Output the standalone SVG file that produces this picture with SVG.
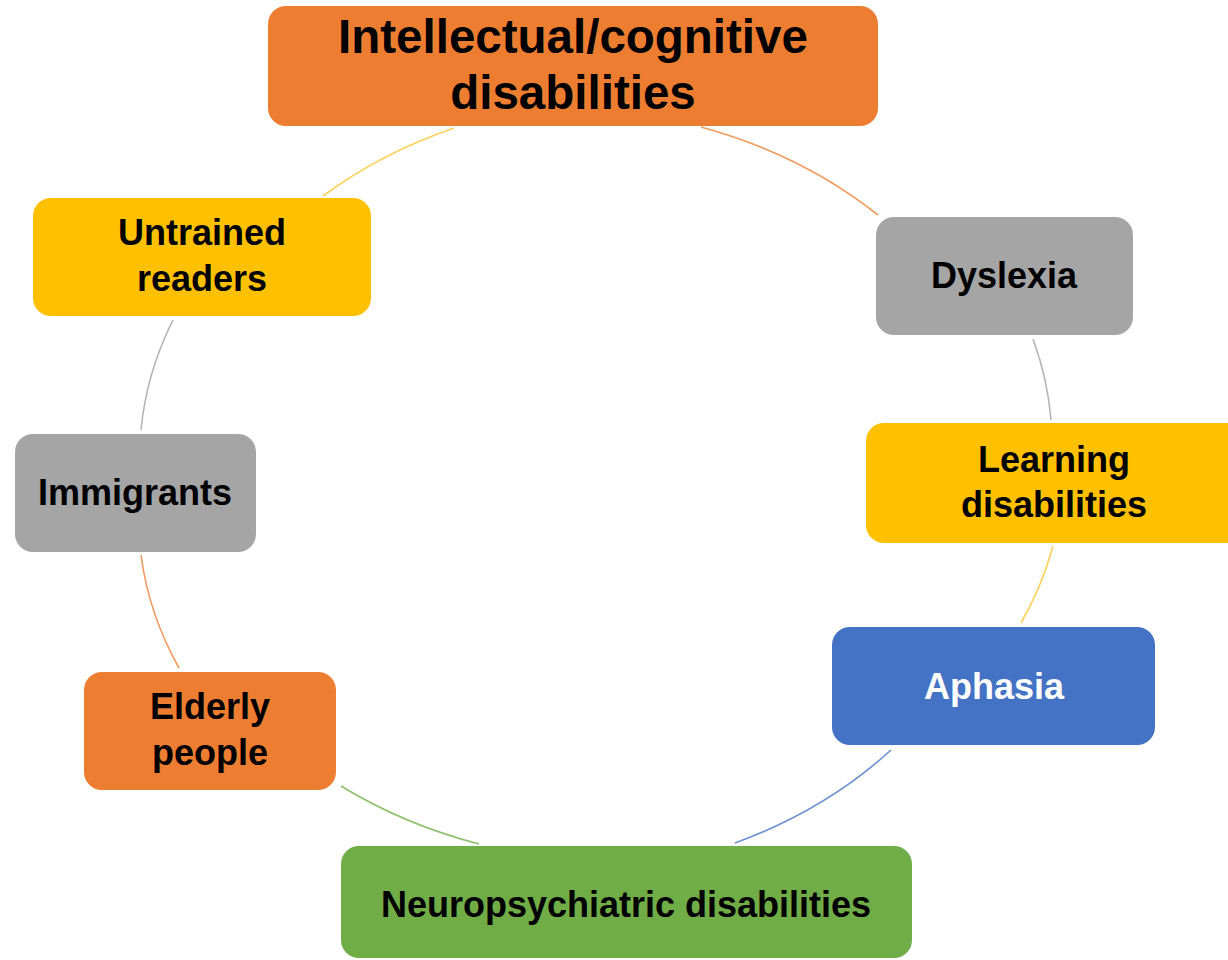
<svg xmlns="http://www.w3.org/2000/svg" width="1228" height="960" viewBox="0 0 1228 960">
<style>
.box{stroke:none}
.t{font-family:"Liberation Sans",Arial,sans-serif;font-weight:bold;text-anchor:middle;fill:#000}
.s{font-size:36px}
.big{font-size:47.5px}
.w{fill:#fff}
.arc{fill:none;stroke-width:1.6}
</style>
<rect width="1228" height="960" fill="#fff"/>
<g id="connectors">
<path class="arc" stroke="#FFD15C" d="M323,196 A463,371 0 0 1 454,128"/>
<path class="arc" stroke="#F19A5E" d="M701,127 A463,371 0 0 1 878,215"/>
<path class="arc" stroke="#B5B5B5" d="M1033,339 A463,371 0 0 1 1051,420"/>
<path class="arc" stroke="#FFD15C" d="M1053,546 A463,371 0 0 1 1021,623"/>
<path class="arc" stroke="#6A8FD3" d="M891,750 A463,371 0 0 1 735,843"/>
<path class="arc" stroke="#8DBF6C" d="M479,844 A463,371 0 0 1 341,786"/>
<path class="arc" stroke="#F19A5E" d="M179,668 A463,371 0 0 1 141,555"/>
<path class="arc" stroke="#B5B5B5" d="M141,430 A463,371 0 0 1 173,320"/>
</g>
<g id="node-intellectual">
<rect class="box" x="268" y="6" width="610" height="120" rx="18" fill="#ED7D31"/>
<text class="t big" x="573" y="53">Intellectual/cognitive</text>
<text class="t big" x="573" y="109">disabilities</text>
</g>
<g id="node-dyslexia">
<rect class="box" x="876" y="217" width="257" height="118" rx="18" fill="#A5A5A5"/>
<text class="t s" x="1004" y="288">Dyslexia</text>
</g>
<g id="node-learning">
<rect class="box" x="866" y="423" width="380" height="120" rx="18" fill="#FFC000"/>
<text class="t s" x="1054" y="472">Learning</text>
<text class="t s" x="1054" y="517">disabilities</text>
</g>
<g id="node-aphasia">
<rect class="box" x="832" y="627" width="323" height="118" rx="18" fill="#4472C4"/>
<text class="t s w" x="994" y="699">Aphasia</text>
</g>
<g id="node-neuro">
<rect class="box" x="341" y="846" width="571" height="112" rx="18" fill="#70AD47"/>
<text class="t s" x="626" y="917">Neuropsychiatric disabilities</text>
</g>
<g id="node-elderly">
<rect class="box" x="84" y="672" width="252" height="118" rx="18" fill="#ED7D31"/>
<text class="t s" x="210" y="719">Elderly</text>
<text class="t s" x="210" y="765">people</text>
</g>
<g id="node-immigrants">
<rect class="box" x="15" y="434" width="241" height="118" rx="18" fill="#A5A5A5"/>
<text class="t s" x="135" y="505">Immigrants</text>
</g>
<g id="node-untrained">
<rect class="box" x="33" y="198" width="338" height="118" rx="18" fill="#FFC000"/>
<text class="t s" x="202" y="245">Untrained</text>
<text class="t s" x="202" y="291">readers</text>
</g>
</svg>
